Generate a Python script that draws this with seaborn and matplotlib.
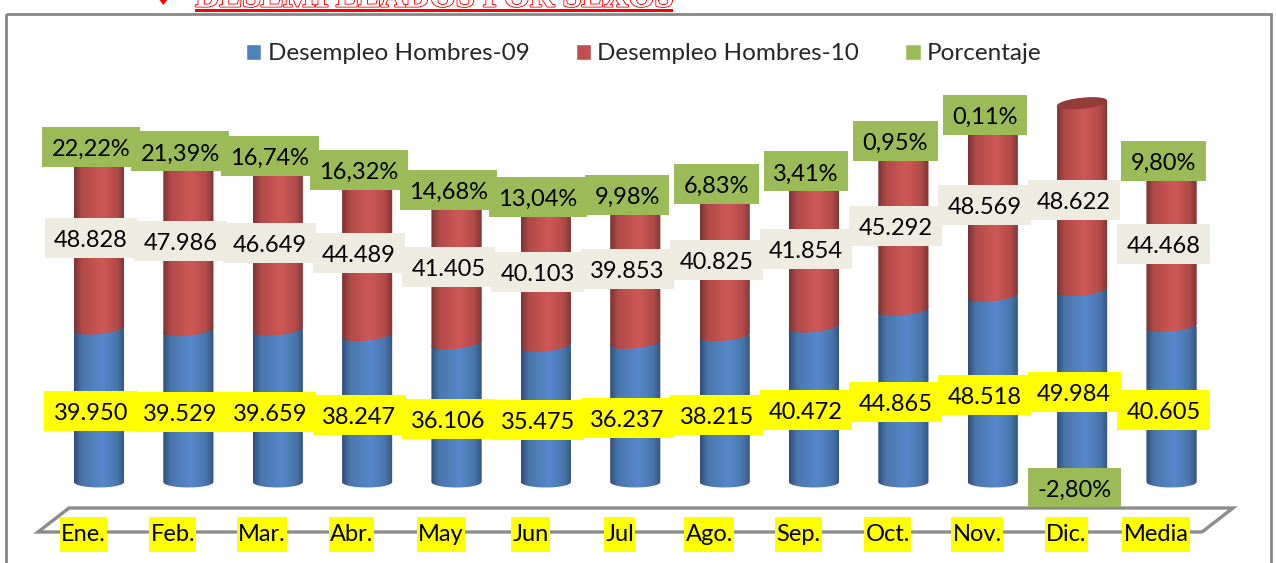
import numpy as np
import pandas as pd
import matplotlib
matplotlib.use("Agg")
import matplotlib.pyplot as plt
import matplotlib.patheffects as pe
import seaborn as sns
from matplotlib.colors import LinearSegmentedColormap
from matplotlib.patches import Patch, PathPatch, Polygon, Rectangle
from matplotlib.path import Path
from matplotlib.transforms import Affine2D, ScaledTranslation

meses = ["Ene.", "Feb.", "Mar.", "Abr.", "May", "Jun", "Jul", "Ago.", "Sep.", "Oct.", "Nov.", "Dic.", "Media"]
hombres_09 = [39950, 39529, 39659, 38247, 36106, 35475, 36237, 38215, 40472, 44865, 48518, 49984, 40605]
hombres_10 = [48828, 47986, 46649, 44489, 41405, 40103, 39853, 40825, 41854, 45292, 48569, 48622, 44468]
porcentaje = [22.22, 21.39, 16.74, 16.32, 14.68, 13.04, 9.98, 6.83, 3.41, 0.95, 0.11, -2.80, 9.80]
series = ["Desempleo Hombres-09", "Desempleo Hombres-10", "Porcentaje"]
titulo = "DESEMPLEADOS POR SEXOS"

AZUL, ROJO, VERDE = "#4f81bd", "#c0504d", "#9bbb59"
W, H = 1276, 563
PX_POR_UNIDAD = 0.00384
BASE_Y = 482  # pixel de y=0

sns.set_theme(style="white")
plt.rcParams["font.family"] = ["Lato", "DejaVu Sans"]

df = pd.DataFrame({"mes": meses, "h09": hombres_09, "h10": hombres_10, "pct": porcentaje})

fig = plt.figure(figsize=(W / 100, H / 100), dpi=100, facecolor="white")
# transformacion en pixeles de la imagen, con y hacia abajo
px = Affine2D().scale(1 / W, -1 / H).translate(0, 1) + fig.transFigure

# el eje va de y=500 a y=80 en pixeles, con el cero en BASE_Y
ax_top, ax_bot = 80, 500
ax = fig.add_axes([54.3 / W, 1 - ax_bot / H, 13 * 89.375 / W, (ax_bot - ax_top) / H])
ax.patch.set_alpha(0)

sns.barplot(data=df, x="mes", y="h09", color=AZUL, width=0.56, saturation=1, ax=ax)
n_azul = len(ax.patches)
sns.barplot(data=df, x="mes", y="h10", bottom=df["h09"].values, color=ROJO, width=0.56, saturation=1, ax=ax)
ax.set_xlim(-0.5, 12.5)
ax.set_ylim(-(ax_bot - BASE_Y) / PX_POR_UNIDAD, (BASE_Y - ax_top) / PX_POR_UNIDAD)
xlim, ylim = ax.get_xlim(), ax.get_ylim()

cmap_azul = LinearSegmentedColormap.from_list(
    "az", [(0, "#2f4f78"), (0.15, "#4a76ac"), (0.55, "#5788cc"), (0.85, "#4a76ac"), (1, "#34557f")])
cmap_rojo = LinearSegmentedColormap.from_list(
    "ro", [(0, "#7a3533"), (0.15, "#b04a48"), (0.55, "#cf5857"), (0.85, "#b24b49"), (1, "#7c3635")])


def elipse(cx, hw, y, t):
    # puntos de la elipse del cilindro, un poco inclinada salvo en la base
    inclina = 2.5 if y != 0 else 0
    yy = y + (5.5 * np.sin(t) + inclina * np.cos(t)) / PX_POR_UNIDAD
    return np.column_stack([cx + hw * np.cos(t), yy])


def cilindro(bar, cmap, zorder):
    hw = bar.get_width() / 2
    cx = bar.get_x() + hw
    y0, y1 = bar.get_y(), bar.get_y() + bar.get_height()
    arriba = elipse(cx, hw, y1, np.linspace(0, np.pi, 40))
    abajo = elipse(cx, hw, y0, np.linspace(np.pi, 2 * np.pi, 40))
    forma = PathPatch(Path(np.vstack([arriba, abajo, arriba[:1]])), transform=ax.transData)
    bar.set_clip_path(forma)
    im = ax.imshow(np.linspace(0, 1, 64).reshape(1, -1), cmap=cmap, aspect="auto", zorder=zorder,
                   extent=(cx - hw, cx + hw, y0 - 10 / PX_POR_UNIDAD, y1 + 10 / PX_POR_UNIDAD))
    im.set_clip_path(forma)
    return cx, hw, y1


for bar in ax.patches[:n_azul]:
    cilindro(bar, cmap_azul, 2)
for bar in ax.patches[n_azul:n_azul + len(meses)]:
    cx, hw, y1 = cilindro(bar, cmap_rojo, 3)
    tapa = elipse(cx, hw, y1, np.linspace(0, 2 * np.pi, 60))
    ax.add_patch(Polygon(tapa, closed=True, fc="#943c3a", ec="none", zorder=3.5))
ax.set_xlim(xlim)
ax.set_ylim(ylim)


def etiqueta(i, y, txt, color, dy):
    # caja y texto por separado: el texto va un poco mas bajo que el centro de la caja
    ax.annotate(txt, (i, y), xytext=(-8 * 0.72, -dy * 0.72), textcoords="offset points",
                ha="center", va="center", fontsize=17, color="none", zorder=6,
                bbox=dict(fc=color, ec="none", pad=6.8), annotation_clip=False)
    ax.annotate(txt, (i, y), xytext=(-8 * 0.72, -(dy + 2.5) * 0.72), textcoords="offset points",
                ha="center", va="center", fontsize=17, color="black", zorder=7, annotation_clip=False)


for i, fila in df.iterrows():
    total = fila["h09"] + fila["h10"]
    etiqueta(i, fila["h09"] / 2, f"{fila['h09']:,}".replace(",", "."), "#ffff00", 6)
    etiqueta(i, fila["h09"] + fila["h10"] / 2, f"{fila['h10']:,}".replace(",", "."), "#eeece1", 3)
    # el porcentaje negativo se queda en la base
    y_pct = total if fila["pct"] >= 0 else 0
    etiqueta(i, y_pct, f"{fila['pct']:.2f}".replace(".", ",") + "%", VERDE, 5.5)

ax.set_xlabel("")
ax.set_ylabel("")
ax.set_yticks([])
ax.tick_params(axis="x", length=0, pad=17, labelsize=17, labelcolor="black")
desplaza = ScaledTranslation(-15.5 / 100, 0, fig.dpi_scale_trans)
for lab in ax.get_xticklabels():
    lab.set_transform(lab.get_transform() + desplaza)
    lab.set_bbox(dict(boxstyle="square,pad=0.05", fc="#ffff00", ec="none", mutation_aspect=6))
ax.xaxis.set_zorder(10)
sns.despine(ax=ax, left=True, bottom=True)

# suelo del grafico en perspectiva
suelo = Polygon([(38, 532), (69, 508), (1233, 508), (1202, 532)], closed=True, fill=False,
                ec="#8c8c8c", lw=2.4, transform=px, zorder=1, clip_on=False)
ax.add_patch(suelo)

# marco y titulo
fig.add_artist(Rectangle((6, 14), 1265, 600, fill=False, ec="#868686", lw=2, transform=px, clip_on=False))
fig.add_artist(Rectangle((195, 8.5), 478, 3, fc="#ff0000", ec="none", transform=px))
t = fig.text(434, 6.5, titulo, transform=px, ha="center", va="baseline", fontsize=24.3, fontweight="bold",
             family="Liberation Serif", color="white")
t.set_path_effects([pe.withStroke(linewidth=1.5, foreground="#ff0000"), pe.Normal()])
fig.text(163, 5, "\u2666", transform=px, ha="center", va="baseline", fontsize=15,
         family="DejaVu Sans", color="#ff0000")

handles = [Patch(fc=AZUL), Patch(fc=ROJO), Patch(fc=VERDE)]
fig.legend(handles, series, loc="center", bbox_to_anchor=(644 / W, 1 - 54 / H), ncol=3, frameon=False,
           fontsize=17.5, borderpad=0, handlelength=0.62, handleheight=0.62, handletextpad=0.27, columnspacing=1.9)

fig.savefig("out.png", dpi=100)
